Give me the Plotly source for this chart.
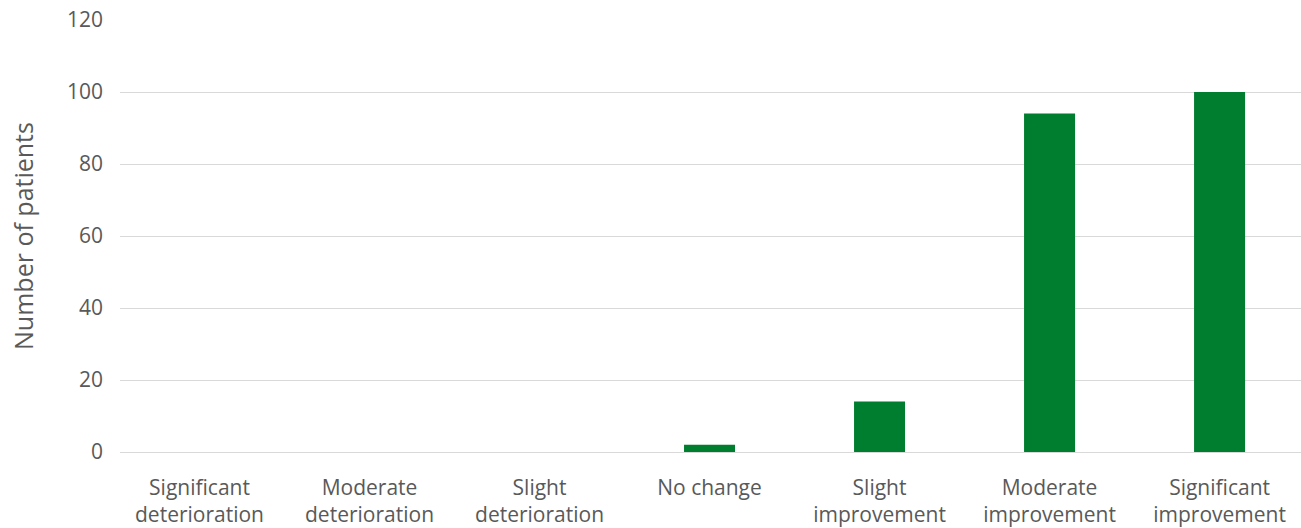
import plotly.graph_objects as go

categories = ["Significant<br>deterioration", "Moderate<br>deterioration", "Slight<br>deterioration",
              "No change", "Slight<br>improvement", "Moderate<br>improvement", "Significant<br>improvement"]
patients = [0, 0, 0, 2, 14, 94, 100]
y_ticks = [0, 20, 40, 60, 80, 100, 120]
positions = list(range(len(categories)))

fig = go.Figure(go.Bar(x=positions, y=patients, width=0.3, marker_color="#007E2F", marker_line_width=0))
fig.update_layout(
    width=1301, height=528,
    margin=dict(l=120, r=0, t=20, b=76),
    paper_bgcolor="white", plot_bgcolor="white",
    font=dict(family="Open Sans, Liberation Sans, sans-serif", size=20, color="#595959"),
    showlegend=False,
)
fig.update_xaxes(range=[-0.4676, 6.479], tickvals=positions, ticktext=categories,
                 showgrid=False, showline=False, zeroline=False, ticks="",
                 tickfont=dict(size=21), ticklabelstandoff=21)
fig.update_yaxes(range=[0, 120], tickvals=y_ticks, showgrid=True, gridcolor="#d9d9d9", gridwidth=1,
                 zeroline=True, zerolinecolor="#d9d9d9", zerolinewidth=1, ticks="",
                 tickfont=dict(size=21),
                 ticklabelstandoff=16,
                 title=dict(text="Number of patients", font=dict(size=25), standoff=26))
fig.write_html("out.html")
